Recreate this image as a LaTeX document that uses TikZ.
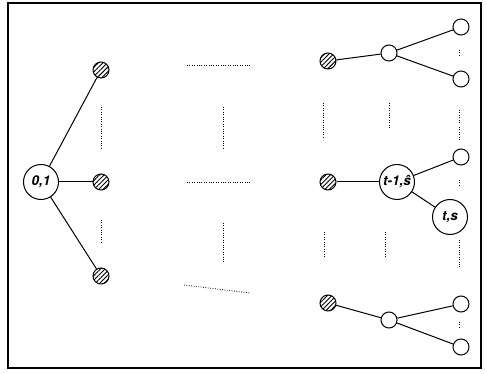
\documentclass[tikz,border=0pt]{standalone}
\usepackage{fontspec}
\setmainfont{TeX Gyre Heros}
\usetikzlibrary{patterns.meta}
\begin{document}
\begin{tikzpicture}[x=1pt,y=-1pt,
  big/.style={circle,draw,line width=1pt,minimum size=35pt,inner sep=0pt,font=\fontsize{13.5}{15}\selectfont\bfseries\itshape},
  small/.style={circle,draw,line width=1pt,minimum size=16pt,inner sep=0pt},
  hatch/.style={circle,draw,line width=1pt,minimum size=16pt,inner sep=0pt,pattern={Lines[angle=45,distance=3.2pt,line width=0.9pt]}},
  edge/.style={line width=1pt},
  dots/.style={line width=0.8pt,dash pattern=on 0.8pt off 1.6pt}]
\useasboundingbox (0,0) rectangle (487,374);
\draw[line width=1.8pt] (8,3) rectangle (481,368);
% left
\node[big] (r) at (41,182) {0,1};
\node[hatch] (h1) at (101,70) {};
\node[hatch] (h2) at (101,182) {};
\node[hatch] (h3) at (101,276) {};
\draw[edge] (r) -- (h1);
\draw[edge] (r) -- (h2);
\draw[edge] (r) -- (h3);
\draw[dots] (101,107) -- (101,148);
\draw[dots] (101,220) -- (101,242);
% middle dotted
\draw[dots] (187,65) -- (250,65);
\draw[dots] (187,182) -- (250,182);
\draw[dots] (184,285) -- (250,293);
\draw[dots] (223,107) -- (223,150);
\draw[dots] (223,223) -- (223,263);
% right top
\node[hatch] (a1) at (328,61) {};
\node[small] (a2) at (389,53) {};
\node[small] (a3) at (461,27) {};
\node[small] (a4) at (461,79) {};
\draw[edge] (a1) -- (a2);
\draw[edge] (a2) -- (a3);
\draw[edge] (a2) -- (a4);
\draw[dots] (459,50) -- (459,55);
% right middle
\node[hatch] (b1) at (328,182) {};
\node[big] (b2) at (397,182) {t-1,ŝ};
\node[small] (b3) at (461,157) {};
\node[big] (b4) at (450,217) {t,s};
\draw[edge] (b1) -- (b2);
\draw[edge] (b2) -- (b3);
\draw[edge] (b2) -- (b4);
\draw[dots] (459,180) -- (459,185);
\draw[dots] (459,127) -- (459,140);
% right bottom
\node[hatch] (c1) at (328,303) {};
\node[small] (c2) at (389,320) {};
\node[small] (c3) at (461,304) {};
\node[small] (c4) at (461,347) {};
\draw[edge] (c1) -- (c2);
\draw[edge] (c2) -- (c3);
\draw[edge] (c2) -- (c4);
\draw[dots] (459,322) -- (459,328);
% vertical dots right
\draw[dots] (323,103) -- (323,139);
\draw[dots] (389,103) -- (389,128);
\draw[dots] (459,110) -- (459,124);
\draw[dots] (324,232) -- (324,258);
\draw[dots] (385,232) -- (385,258);
\draw[dots] (459,240) -- (459,267);
\end{tikzpicture}
\end{document}
